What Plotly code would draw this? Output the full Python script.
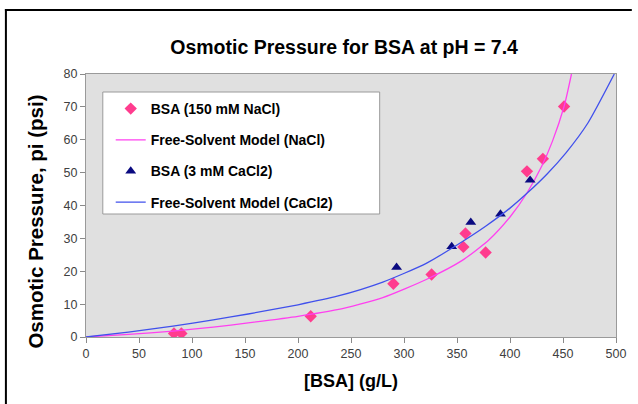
import plotly.graph_objects as go

# ---- data ----
nacl_x = [83, 90, 212, 290, 326, 356, 358, 377, 416, 431, 451]
nacl_y = [1.1, 1.1, 6.3, 16.2, 19.0, 27.4, 31.5, 25.7, 50.4, 54.2, 70.1]

cacl_x = [293, 345, 363, 391, 419]
cacl_y = [21.2, 27.5, 34.9, 37.4, 47.7]

model_nacl_x = [0, 40, 82, 120, 153, 200, 237, 280, 321, 355, 380, 400, 416, 430, 440, 451, 458]
model_nacl_y = [0, 0.8, 1.8, 3.0, 4.3, 6.3, 8.3, 12.0, 17.5, 23.3, 29.5, 36.5, 43.8, 52.0, 59.5, 70.1, 80.0]

model_cacl_x = [0, 40, 82, 120, 153, 200, 237, 280, 321, 350, 377, 400, 416, 435, 453, 473.5, 498.4]
model_cacl_y = [0, 1.5, 3.3, 5.2, 7.0, 9.8, 12.4, 16.7, 22.4, 28.0, 33.7, 39.2, 43.7, 49.6, 56.1, 65.1, 80.0]

x_ticks = [0, 50, 100, 150, 200, 250, 300, 350, 400, 450, 500]
y_ticks = [0, 10, 20, 30, 40, 50, 60, 70, 80]

FONT = "Liberation Sans, Arial, sans-serif"

fig = go.Figure()
fig.add_trace(go.Scatter(
    x=nacl_x, y=nacl_y, mode="markers", name="<b>BSA (150 mM NaCl)</b>",
    legendgroup="a",
    marker=dict(symbol="diamond", size=9.5, color="#ff3c8e"),
))
fig.add_trace(go.Scatter(
    x=model_nacl_x, y=model_nacl_y, mode="lines", name="<b>Free-Solvent Model (NaCl)</b>",
    legendgroup="b", line=dict(color="#ff40f0", width=1.3, shape="spline", smoothing=0.6),
))
fig.add_trace(go.Scatter(
    x=cacl_x, y=cacl_y, mode="markers", name="<b>BSA (3 mM CaCl2)</b>",
    legendgroup="c",
    marker=dict(symbol="triangle-up", size=9.5, color="#0a0a80"),
))
fig.add_trace(go.Scatter(
    x=model_cacl_x, y=model_cacl_y, mode="lines", name="<b>Free-Solvent Model (CaCl2)</b>",
    legendgroup="d", line=dict(color="#4050ec", width=1.3, shape="spline", smoothing=0.6),
))

L, R, T, B = 86, 16, 74, 67
W, H = 638, 404
pw, ph = W - L - R, H - T - B

def px(xp):
    return (xp - L) / pw

def py(yp):
    return (H - B - yp) / ph

fig.update_layout(
    width=W, height=H,
    margin=dict(l=L, r=R, t=T, b=B),
    paper_bgcolor="white",
    plot_bgcolor="#e0e0e0",
    font=dict(family=FONT, color="black"),
    title=dict(
        text="<b>Osmotic Pressure for BSA at pH = 7.4</b>",
        font=dict(size=19.5, family=FONT, color="black"),
        x=px(347), xanchor="center", xref="paper",
        y=1 - 47 / H, yanchor="middle", yref="container",
    ),
    xaxis=dict(
        range=[0, 500], tickvals=x_ticks, ticktext=[str(v) for v in x_ticks],
        showgrid=False, zeroline=False,
        showline=True, linecolor="#9a9a9a", linewidth=1, mirror=True,
        ticks="outside", ticklen=5, tickcolor="#8a8a8a",
        tickfont=dict(size=12.5, color="#404040", family=FONT),
        title=dict(text="<b>[BSA] (g/L)</b>", font=dict(size=18, family=FONT, color="black"), standoff=14),
    ),
    yaxis=dict(
        range=[0, 80], tickvals=y_ticks, ticktext=[str(v) for v in y_ticks],
        showgrid=False, zeroline=False,
        showline=True, linecolor="#9a9a9a", linewidth=1, mirror=True,
        ticks="outside", ticklen=5, tickcolor="#8a8a8a",
        tickfont=dict(size=12.5, color="#404040", family=FONT),
    ),
    annotations=[
        dict(text="<b>Osmotic Pressure, pi (psi)</b>", textangle=-90,
             xref="paper", yref="paper", x=px(35), y=py(222),
             xanchor="center", yanchor="middle", showarrow=False,
             font=dict(size=20.5, family=FONT, color="black")),
    ],
    legend=dict(
        x=px(111), y=py(93), xanchor="left", yanchor="top",
        bgcolor="rgba(0,0,0,0)", borderwidth=0,
        font=dict(size=14, family=FONT, color="black"),
        tracegroupgap=10,
        itemwidth=30,
    ),
    shapes=[
        # legend box
        dict(type="rect", xref="paper", yref="paper",
             x0=px(103), x1=px(383), y0=py(214), y1=py(92),
             fillcolor="white", line=dict(color="#9a9a9a", width=1), layer="above"),
        # outer chart frame: top edge and left edge (others lie outside the view)
        dict(type="line", xref="paper", yref="paper",
             x0=px(4), x1=px(W), y0=py(10), y1=py(10),
             line=dict(color="black", width=2), layer="above"),
        dict(type="line", xref="paper", yref="paper",
             x0=px(5), x1=px(5), y0=py(9), y1=py(H),
             line=dict(color="black", width=2), layer="above"),
    ],
)

fig.write_html("out.html")
